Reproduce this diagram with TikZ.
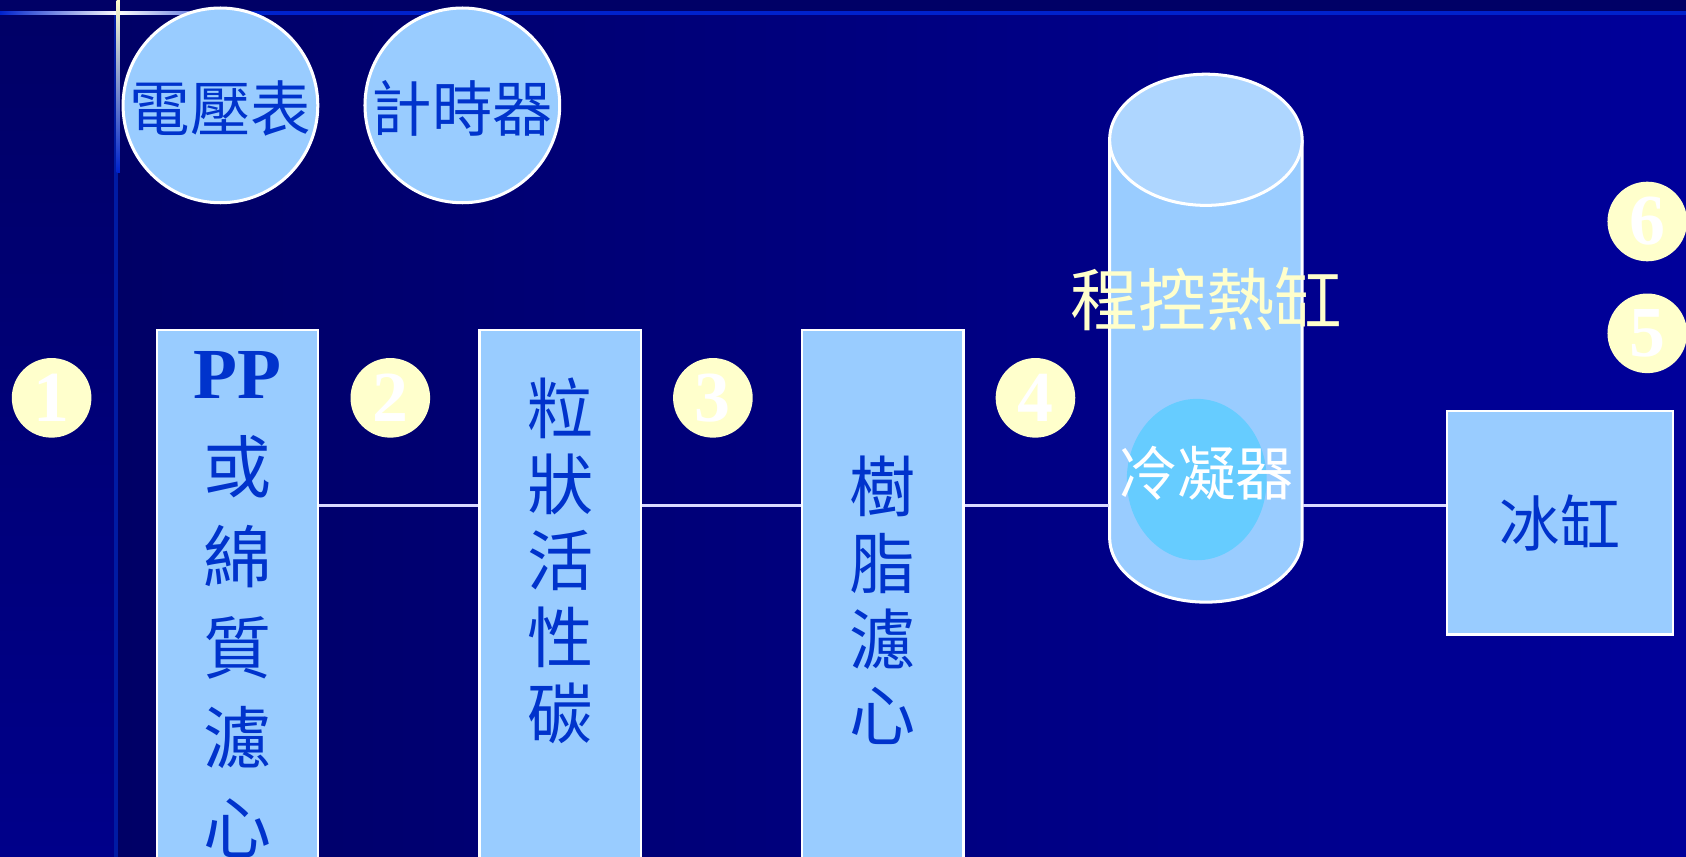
\documentclass[tikz,border=0pt]{standalone}
\usepackage{fontspec}
\setmainfont{Liberation Serif}
\newfontfamily\cjk{Noto Sans CJK TC}
\usetikzlibrary{shapes.geometric}
\definecolor{bgdark}{HTML}{000066}
\definecolor{bgright}{HTML}{00009A}
\definecolor{stripc}{HTML}{00008A}
\definecolor{boxfill}{HTML}{99CCFF}
\definecolor{capfill}{HTML}{AED6FF}
\definecolor{condfill}{HTML}{66CCFF}
\definecolor{txtblue}{HTML}{0033CC}
\definecolor{numfill}{HTML}{FFFFCC}
\definecolor{linec}{HTML}{0022CC}
\begin{document}
\begin{tikzpicture}[x=0.01cm,y=-0.01cm,
  box/.style={draw=white, line width=0.6pt, fill=boxfill, inner sep=0},
  num/.style={circle, fill=numfill, minimum size=0.74cm, inner sep=0, text=white, font=\fontsize{19}{20}\selectfont\bfseries},
  dial/.style={circle, draw=white, line width=0.8pt, fill=boxfill, minimum size=1.81cm, inner sep=0},
  dialtext/.style={text=txtblue, inner sep=0, font=\cjk\fontsize{16}{18}\selectfont},
  coltext/.style={text=txtblue, inner sep=0, align=center},
  pipe/.style={draw=white!85!blue, line width=0.6pt}]
\useasboundingbox (0,0) rectangle (1568,797);
\begin{scope}
\clip (0,0) rectangle (1568,797);
% background
\shade[left color=bgdark, right color=bgright] (108,0) rectangle (1568,797);
\shade[top color=bgdark, bottom color=stripc] (0,0) rectangle (108,797);
\fill[bgdark] (0,0) rectangle (1568,11);
\draw[linec, line width=1.2pt] (0,12) -- (1568,12);
\draw[linec!80!black, line width=1pt] (108,12) -- (108,797);
% glow cross
\shade[left color=linec, right color=white] (0,10.5) rectangle (110,13.5);
\shade[left color=white, right color=linec] (110,10.5) rectangle (230,13.5);
\shade[top color=numfill, bottom color=linec] (108.5,0) rectangle (111.5,160);

% dials
\node[dial, name=volt] at (205,98) {};
\node[dialtext, name=volttxt] at (205,101) {電壓表};
\node[dial, name=timer] at (430,98) {};
\node[dialtext, name=timertxt] at (430,101) {計時器};

% filter columns
\node[box, name=pp, minimum width=1.50cm, minimum height=5.03cm] at (221,558.5) {};
\node[box, name=gac, minimum width=1.50cm, minimum height=5.03cm] at (521,558.5) {};
\node[box, name=resin, minimum width=1.50cm, minimum height=5.03cm] at (821,558.5) {};

\node[name=pptxt, text=txtblue, inner sep=0, font=\fontsize{19}{20}\selectfont\bfseries] at (221,349) {PP};
\node[coltext, name=ppcol, font=\cjk\fontsize{18}{23.9}\selectfont] at (221,601.5) {或\\綿\\質\\濾\\心};
\node[coltext, name=gaccol, font=\cjk\fontsize{17.5}{20.2}\selectfont] at (521,521.5) {粒\\狀\\活\\性\\碳};
\node[coltext, name=resincol, font=\cjk\fontsize{17.5}{20.2}\selectfont] at (821,558.5) {樹\\脂\\濾\\心};

% heater cylinder
\fill[boxfill] (1032,130) rectangle (1211,500);
\fill[boxfill] (1121.5,500) ellipse [x radius=89.5, y radius=60];
\draw[white, line width=0.8pt] (1032,130) -- (1032,500) arc[start angle=180, end angle=0, x radius=89.5, y radius=60] -- (1211,130);
\filldraw[fill=capfill, draw=white, line width=0.8pt] (1121.5,130) ellipse [x radius=89.5, y radius=61];
\node[name=cyl, inner sep=0, minimum width=1.79cm, minimum height=4.91cm] at (1121.5,314.5) {};
\node[name=cond, ellipse, fill=condfill, inner sep=0, minimum width=1.30cm, minimum height=1.50cm] at (1113,446) {};
\node[name=condtxt, text=white, inner sep=0, font=\cjk\fontsize{15.5}{17}\selectfont] at (1122,440) {冷凝器};
\node[name=heattxt, text=numfill, inner sep=0, font=\cjk\fontsize{18}{20}\selectfont] at (1122,278) {程控熱缸};

% ice tank
\node[box, name=ice, minimum width=2.10cm, minimum height=2.08cm, text=txtblue, font=\cjk\fontsize{16}{18}\selectfont] at (1451,486) {冰缸};

% pipes
\coordinate (lineY) at (0,470);
\draw[pipe] (pp.east |- lineY) -- (gac.west |- lineY);
\draw[pipe] (gac.east |- lineY) -- (resin.west |- lineY);
\draw[pipe] (resin.east |- lineY) -- (cyl.west |- lineY);
\draw[pipe] (cyl.east |- lineY) -- (ice.west |- lineY);

% numbered markers
\node[num, name=n1] at (48,370) {1};
\node[num, name=n2] at (363,370) {2};
\node[num, name=n3] at (663,370) {3};
\node[num, name=n4] at (963,370) {4};
\node[num, name=n6] at (1532,206) {6};
\node[num, name=n5] at (1532,310) {5};
\end{scope}
\end{tikzpicture}
\end{document}
